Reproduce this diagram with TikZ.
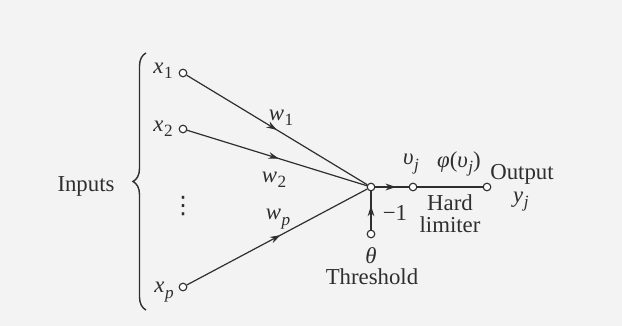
\documentclass[tikz,border=0pt]{standalone}
\usepackage{fontspec}
\setmainfont{Liberation Serif}
\newfontfamily\symfont{DejaVu Sans}
\usetikzlibrary{arrows.meta,decorations.markings,decorations.pathreplacing}
\definecolor{ink}{HTML}{2E2E2E}
\definecolor{paper}{HTML}{F3F3F3}
\newcommand{\vv}[2]{\textit{#1}\kern0.3pt\raisebox{-2.6pt}{\fontsize{8.6}{9}\selectfont #2}}
\tikzset{
  dot/.style={circle,draw=ink,fill=white,line width=0.55pt,inner sep=0pt,minimum size=3.8pt},
  lbl/.style={text=ink,inner sep=0pt,font=\fontsize{11.4}{13}\selectfont},
  wire/.style={draw=ink,line width=0.6pt},
  midarrow/.style={postaction={decorate},decoration={markings,mark=at position #1 with {\arrow[ink]{Stealth[length=5.2pt,width=3.4pt]}}}}
}
\begin{document}
\begin{tikzpicture}[x=0.5pt,y=-0.5pt]
\fill[paper] (0,0) rectangle (622,326);
\useasboundingbox (0,0) rectangle (622,326);
% input nodes
\node[dot] (x1) at (183,73) {};
\node[dot] (x2) at (183,129) {};
\node[dot] (xp) at (183,287) {};
\node[dot] (sum) at (371,187) {};
\node[dot] (v) at (413,187) {};
\node[dot] (out) at (487,187) {};
\node[dot] (th) at (371,234) {};
% labels
\node[lbl] (lx1) at (163,71) {\vv{x}{1}};
\node[lbl] (lx2) at (163,129) {\vv{x}{2}};
\node[lbl] (lxp) at (164,292) {\vv{x}{\textit{p}}};
\node[lbl,font=\fontsize{12}{13}\symfont] (dots) at (183,206) {⋮};
\node[lbl] (w1) at (281,118) {\vv{w}{1}};
\node[lbl] (w2) at (274,180) {\vv{w}{2}};
\node[lbl] (wp) at (278,219) {\vv{w}{\textit{p}}};
\node[lbl] (vj) at (411,164) {\vv{υ}{\textit{j}}};
\node[lbl] (phi) at (459,164) {\textit{φ}(\vv{υ}{\textit{j}})};
\node[lbl] (hard) at (450,203) {Hard};
\node[lbl] (lim) at (450,225) {limiter};
\node[lbl] (m1) at (395,213) {−1};
\node[lbl] (theta) at (371,256) {\textit{θ}};
\node[lbl] (thr) at (372,277) {Threshold};
\node[lbl] (outl) at (522,174) {Output};
\node[lbl] (yj) at (521,202) {\vv{y}{\textit{j}}};
\node[lbl] (inp) at (86,186) {Inputs};
% brace
\coordinate (bb) at (146,310);
\coordinate (bt) at (146,53);
\draw[ink,line width=0.7pt,decorate,decoration={brace,amplitude=6.5pt}] (bb) -- (bt);
% connectors
\draw[wire,midarrow=0.5] (x1) -- (sum);
\draw[wire,midarrow=0.51] (x2) -- (sum);
\draw[wire,midarrow=0.52] (xp) -- (sum);
\draw[wire,midarrow=0.62] (sum) -- (v);
\draw[wire] (v) -- (out);
\draw[wire,midarrow=0.62] (th) -- (sum);
\end{tikzpicture}
\end{document}
